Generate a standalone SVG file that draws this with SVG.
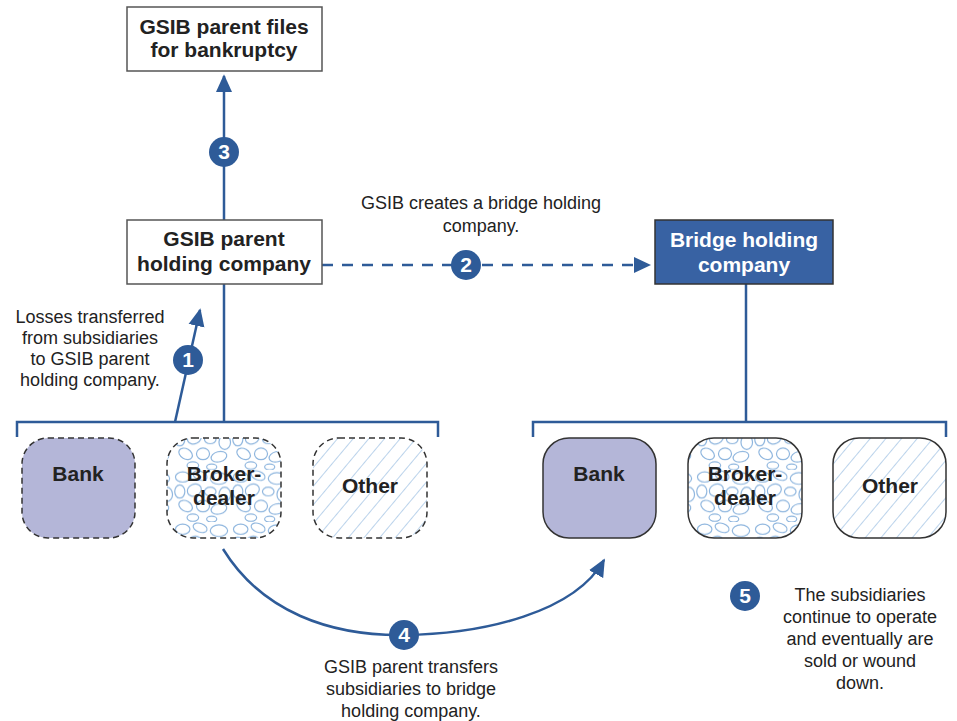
<svg xmlns="http://www.w3.org/2000/svg" width="957" height="721" viewBox="0 0 957 721">
<defs>
<style>
.box{fill:#fff;stroke:#555;stroke-width:1.5}
.lbl{font-family:"Liberation Sans",Arial,sans-serif;font-weight:bold;font-size:21px;fill:#222;text-anchor:middle}
.wl{fill:#fff}
.txt{font-family:"Liberation Sans",Arial,sans-serif;font-size:18px;fill:#222;text-anchor:middle}
.ln{stroke:#2e5b98;stroke-width:2.5;fill:none}
.num{fill:#2e5b98}
.numt{font-family:"Liberation Sans",Arial,sans-serif;font-weight:bold;font-size:21px;fill:#fff;text-anchor:middle}
.sub{stroke:#333;stroke-width:1.5}
.dash{stroke-dasharray:6 4}
</style>
<marker id="ah2" viewBox="0 0 10 10" refX="9" refY="5" markerWidth="18" markerHeight="18" markerUnits="userSpaceOnUse" orient="auto">
<path d="M0,0.5 L10,5 L0,9.5 z" fill="#2e5b98"/>
</marker>
<pattern id="hatch" patternUnits="userSpaceOnUse" width="12" height="12" patternTransform="rotate(40)">
<rect width="12" height="12" fill="#fff"/>
<line x1="0" y1="0" x2="0" y2="12" stroke="#8db5de" stroke-width="1.2"/>
</pattern>
<pattern id="pebble" patternUnits="userSpaceOnUse" width="40" height="36" patternTransform="scale(1.45)">
<rect width="40" height="36" fill="#fff"/>
<g fill="none" stroke="#8db5de" stroke-width="0.8">
<ellipse cx="6" cy="5" rx="5" ry="3.5"/>
<ellipse cx="18" cy="4" rx="5" ry="3" transform="rotate(20 18 4)"/>
<ellipse cx="31" cy="6" rx="6" ry="4"/>
<ellipse cx="4" cy="15" rx="3.5" ry="4.5"/>
<ellipse cx="14" cy="14" rx="5" ry="4" transform="rotate(-25 14 14)"/>
<ellipse cx="25" cy="15" rx="4" ry="3"/>
<ellipse cx="35" cy="17" rx="4" ry="5"/>
<ellipse cx="8" cy="25" rx="5" ry="3.5" transform="rotate(30 8 25)"/>
<ellipse cx="20" cy="25" rx="4.5" ry="4"/>
<ellipse cx="31" cy="27" rx="5.5" ry="3.5" transform="rotate(-15 31 27)"/>
<ellipse cx="13" cy="33" rx="4" ry="2.5"/>
<ellipse cx="26" cy="34" rx="3.5" ry="2"/>
</g>
</pattern>
</defs>
<rect width="957" height="721" fill="#fff"/>

<g id="connectors">
<line class="ln" x1="224" y1="220" x2="224" y2="76" marker-end="url(#ah2)"/>
<line class="ln" x1="224" y1="284" x2="224" y2="422"/>
<path class="ln" d="M17,437 V422 H438 V437"/>
<path class="ln" d="M533,437 V422 H946 V437"/>
<line class="ln" x1="746" y1="284" x2="746" y2="422"/>
<line class="ln" x1="322" y1="265" x2="636" y2="265" stroke-dasharray="11 9"/>
<path d="M634,257 L651,265 L634,273 z" fill="#2e5b98"/>
<line class="ln" x1="175" y1="422" x2="200" y2="310" marker-end="url(#ah2)"/>
<path class="ln" d="M223,549 C262,612 330,636 404,635 C485,634 575,612 604,560" marker-end="url(#ah2)"/>
</g>

<g id="n-top">
<rect class="box" x="127" y="7" width="195" height="64"/>
<text class="lbl" x="224" y="34">GSIB parent files</text>
<text class="lbl" x="224" y="57">for bankruptcy</text>
</g>
<g id="n-parent">
<rect class="box" x="127" y="220" width="195" height="64"/>
<text class="lbl" x="224" y="246">GSIB parent</text>
<text class="lbl" x="224" y="271">holding company</text>
</g>
<g id="n-bridge">
<rect x="655" y="220" width="178" height="64" fill="#3862a3" stroke="#333" stroke-width="1.5"/>
<text class="lbl wl" x="744" y="247">Bridge holding</text>
<text class="lbl wl" x="744" y="272">company</text>
</g>

<g id="n-bank-l">
<rect class="sub dash" x="22" y="438" width="113" height="100" rx="26" fill="#b4b6d8"/>
<text class="lbl" x="78" y="481">Bank</text>
</g>
<g id="n-broker-l">
<rect class="sub dash" x="167" y="438" width="114" height="100" rx="26" fill="url(#pebble)"/>
<text class="lbl" x="224" y="481">Broker-</text>
<text class="lbl" x="224" y="505">dealer</text>
</g>
<g id="n-other-l">
<rect class="sub dash" x="313" y="438" width="114" height="100" rx="26" fill="url(#hatch)"/>
<text class="lbl" x="370" y="493">Other</text>
</g>
<g id="n-bank-r">
<rect class="sub" x="543" y="438" width="113" height="100" rx="26" fill="#b4b6d8"/>
<text class="lbl" x="599" y="481">Bank</text>
</g>
<g id="n-broker-r">
<rect class="sub" x="688" y="438" width="114" height="100" rx="26" fill="url(#pebble)"/>
<text class="lbl" x="745" y="481">Broker-</text>
<text class="lbl" x="745" y="505">dealer</text>
</g>
<g id="n-other-r">
<rect class="sub" x="833" y="438" width="113" height="100" rx="26" fill="url(#hatch)"/>
<text class="lbl" x="890" y="493">Other</text>
</g>

<g id="step1">
<circle class="num" cx="188" cy="360" r="15"/>
<text class="numt" x="188" y="367">1</text>
<text class="txt" x="90" y="323">Losses transferred</text>
<text class="txt" x="90" y="344">from subsidiaries</text>
<text class="txt" x="90" y="365">to GSIB parent</text>
<text class="txt" x="90" y="386">holding company.</text>
</g>
<g id="step2">
<circle class="num" cx="466" cy="265" r="15"/>
<text class="numt" x="466" y="272">2</text>
<text class="txt" x="481" y="209">GSIB creates a bridge holding</text>
<text class="txt" x="481" y="232">company.</text>
</g>
<g id="step3">
<circle class="num" cx="224" cy="152" r="15"/>
<text class="numt" x="224" y="159">3</text>
</g>
<g id="step4">
<circle class="num" cx="404" cy="635" r="15"/>
<text class="numt" x="404" y="642">4</text>
<text class="txt" x="411" y="673">GSIB parent transfers</text>
<text class="txt" x="411" y="695">subsidiaries to bridge</text>
<text class="txt" x="411" y="717">holding company.</text>
</g>
<g id="step5">
<circle class="num" cx="745" cy="596" r="15"/>
<text class="numt" x="745" y="603">5</text>
<text class="txt" x="860" y="601">The subsidiaries</text>
<text class="txt" x="860" y="623">continue to operate</text>
<text class="txt" x="860" y="645">and eventually are</text>
<text class="txt" x="860" y="667">sold or wound</text>
<text class="txt" x="860" y="689">down.</text>
</g>
</svg>
